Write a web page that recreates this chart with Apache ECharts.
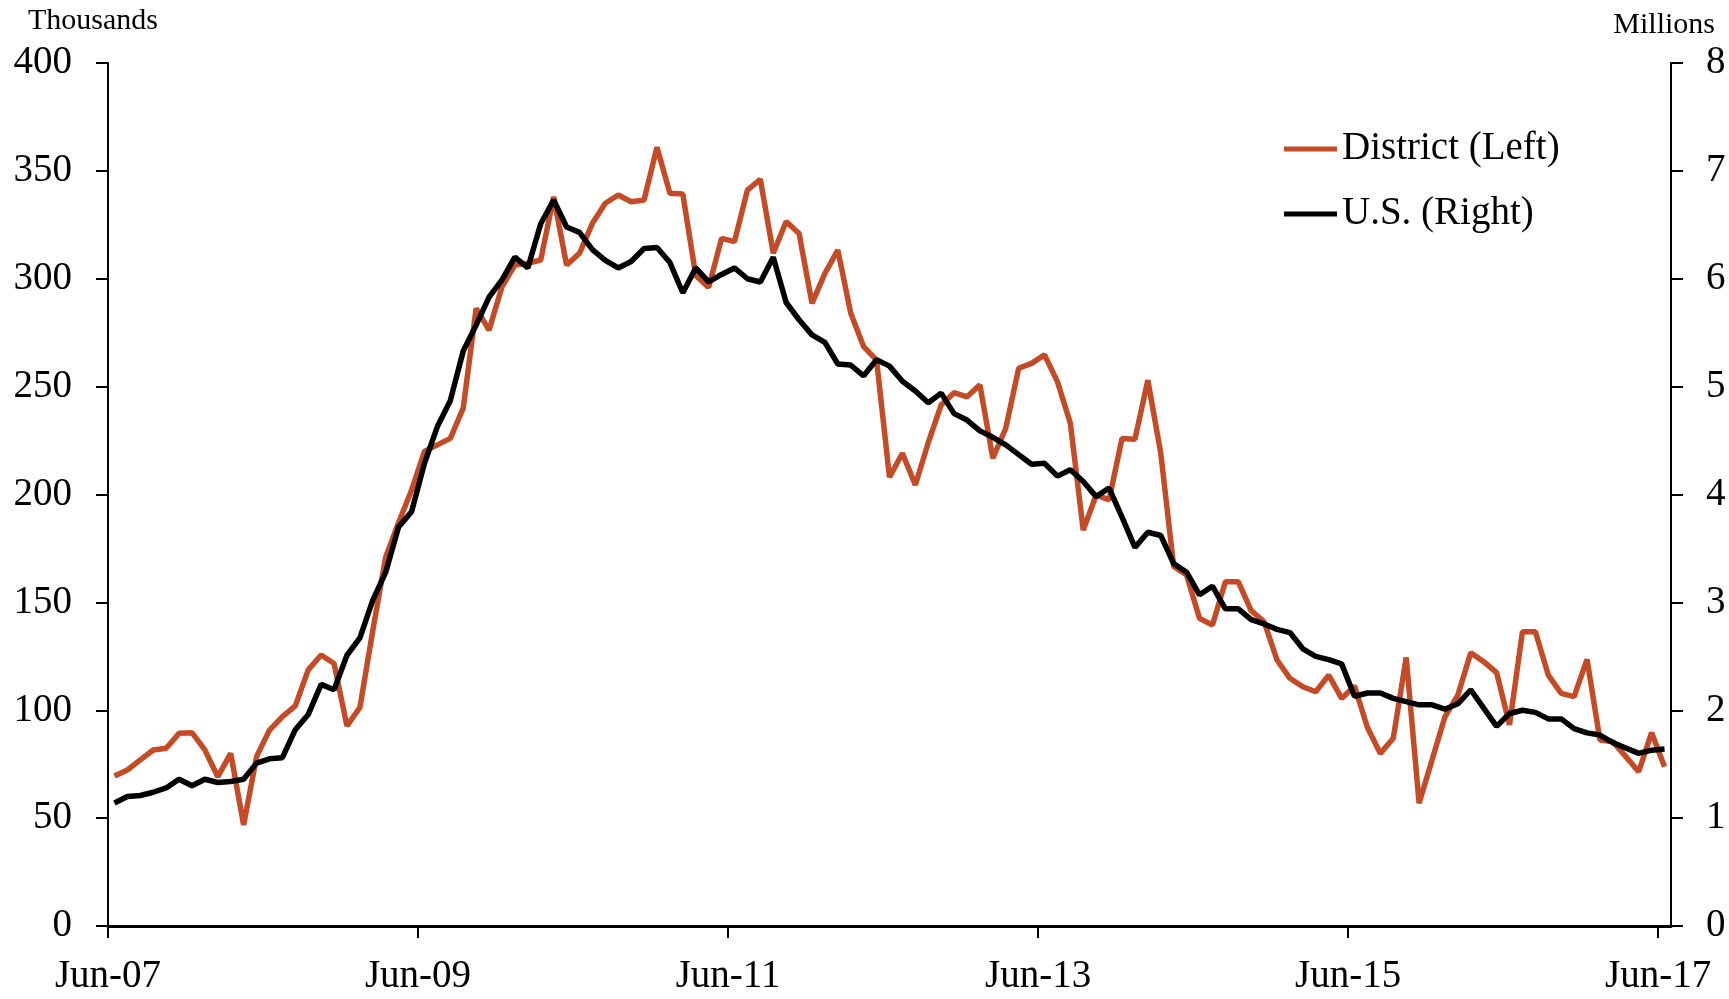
<!DOCTYPE html>
<html>
<head>
<meta charset="utf-8">
<script src="https://cdn.jsdelivr.net/npm/echarts@6/dist/echarts.min.js"></script>
<style>
html,body{margin:0;padding:0;background:#fff;}
#chart{width:1729px;height:999px;}
</style>
</head>
<body>
<div id="chart"></div>
<script>
// ---- data ----
const monthNames = ['Jan','Feb','Mar','Apr','May','Jun','Jul','Aug','Sep','Oct','Nov','Dec'];
function monthLabel(k){ const m=(5+k)%12, y=7+Math.floor((5+k)/12); return monthNames[m]+'-'+String(y).padStart(2,'0'); }
const months = Array.from({length:121},(_,k)=>monthLabel(k));          // Jun-07 .. Jun-17
const boundaryMonths = Array.from({length:122},(_,k)=>monthLabel(k));  // tick boundaries
const tickLabels = ['Jun-07','Jun-09','Jun-11','Jun-13','Jun-15','Jun-17'];

const districtLeft = [
 69.5,72.3,77,81.6,82.4,89.3,89.6,81.6,69.2,80,
 46.8,78.5,90.8,97,102,118.7,125.6,121.7,92.7,101.3,
 137,171,187,202,220,223,226,240,286.3,276.2,
 296.3,306.4,307.2,308.7,338,306.4,311.8,325.7,335,338.8,
 335.7,336.5,361,339.6,339.3,301.5,296,318.7,317.2,341.1,
 346.1,311.8,326.5,321,288.6,302.5,313.3,284,268.5,262.3,
 208,219.1,204.4,224,241.5,247.2,245.3,250.8,216.8,230.7,
 258.5,260.8,264.7,252.3,233,183.5,199.8,197.5,226,225.6,
 253,219.1,166.6,162.7,142.6,139.5,159.6,159.6,146.2,141,
 123.3,114.8,110.9,108.6,116.3,105.5,111.2,92,80,87,
 124.5,56.9,76.9,97,107,126.7,122.5,117.4,93.2,136.4,
 136.4,116.3,107.8,106.3,123.6,86.2,85.4,78.5,71.5,89.6,
 73.8
];
const usRight = [
 1.14,1.20,1.21,1.24,1.28,1.36,1.30,1.36,1.33,1.34,
 1.36,1.51,1.55,1.56,1.82,1.96,2.24,2.19,2.51,2.67,
 3.02,3.28,3.70,3.84,4.29,4.63,4.87,5.33,5.57,5.83,
 5.99,6.20,6.10,6.51,6.73,6.48,6.43,6.27,6.17,6.10,
 6.16,6.28,6.29,6.15,5.87,6.10,5.97,6.04,6.10,6.00,
 5.97,6.20,5.78,5.62,5.48,5.41,5.21,5.20,5.10,5.25,
 5.19,5.05,4.96,4.85,4.94,4.75,4.69,4.59,4.53,4.46,
 4.37,4.28,4.29,4.17,4.23,4.12,3.98,4.06,3.79,3.51,
 3.65,3.62,3.36,3.28,3.07,3.15,2.94,2.94,2.84,2.80,
 2.75,2.72,2.57,2.50,2.47,2.43,2.13,2.16,2.16,2.11,
 2.08,2.05,2.05,2.01,2.06,2.19,2.02,1.85,1.97,2.00,
 1.98,1.92,1.92,1.83,1.79,1.77,1.70,1.65,1.60,1.63,
 1.64
];
const seriesNames = ['District (Left)','U.S. (Right)'];

// ---- chart ----
const FONT = "'Liberation Serif','DejaVu Serif',serif";
const chart = echarts.init(document.getElementById('chart'), null, {renderer:'canvas'});
const axisLineStyle = {color:'#000', width:2};
const showTick = (idx, val) => tickLabels.indexOf(val) >= 0;
chart.setOption({
  backgroundColor:'#fff',
  animation:false,
  textStyle:{fontFamily:FONT, color:'#000'},
  grid:{left:108, right:58, top:63, bottom:73, containLabel:false},
  graphic:[
    {type:'text', left:28, top:6, style:{text:'Thousands', font:"30px 'Liberation Serif'", fill:'#000'}},
    {type:'text', right:14, top:10, style:{text:'Millions', font:"30px 'Liberation Serif'", fill:'#000'}}
  ],
  legend:{
    orient:'vertical', left:1279, top:124, itemGap:25,
    itemWidth:53, itemHeight:5, icon:'rect',
    textStyle:{fontFamily:FONT, fontSize:39, color:'#000', lineHeight:40},
    data:seriesNames
  },
  xAxis:[
    {type:'category', data:months, boundaryGap:true, position:'bottom',
     axisLine:{show:true, lineStyle:{color:'#000', width:3}},
     axisTick:{show:false}, axisLabel:{show:false}, splitLine:{show:false}},
    {type:'category', data:boundaryMonths, boundaryGap:false, position:'bottom',
     axisLine:{show:false},
     axisTick:{show:true, interval:showTick, length:12, inside:false, lineStyle:{color:'#000', width:2}},
     axisLabel:{show:true, interval:showTick, margin:31, fontSize:39, fontFamily:FONT, color:'#000'},
     splitLine:{show:false}}
  ],
  yAxis:[
    {type:'value', min:0, max:400, interval:50, position:'left',
     axisLine:{show:true, lineStyle:axisLineStyle},
     axisTick:{show:true, length:12, lineStyle:axisLineStyle},
     axisLabel:{margin:36, fontSize:39, fontFamily:FONT, color:'#000'},
     splitLine:{show:false}},
    {type:'value', min:0, max:8, interval:1, position:'right',
     axisLine:{show:true, lineStyle:axisLineStyle},
     axisTick:{show:true, length:12, lineStyle:axisLineStyle},
     axisLabel:{margin:35, fontSize:39, fontFamily:FONT, color:'#000'},
     splitLine:{show:false}}
  ],
  series:[
    {name:seriesNames[0], type:'line', xAxisIndex:0, yAxisIndex:0, data:districtLeft,
     showSymbol:false, symbol:'none', smooth:false, color:'#C44B25',
     lineStyle:{color:'#C44B25', width:5.5}},
    {name:seriesNames[1], type:'line', xAxisIndex:0, yAxisIndex:1, data:usRight,
     showSymbol:false, symbol:'none', smooth:false, color:'#000',
     lineStyle:{color:'#000', width:5.5}}
  ]
});
</script>
</body>
</html>
